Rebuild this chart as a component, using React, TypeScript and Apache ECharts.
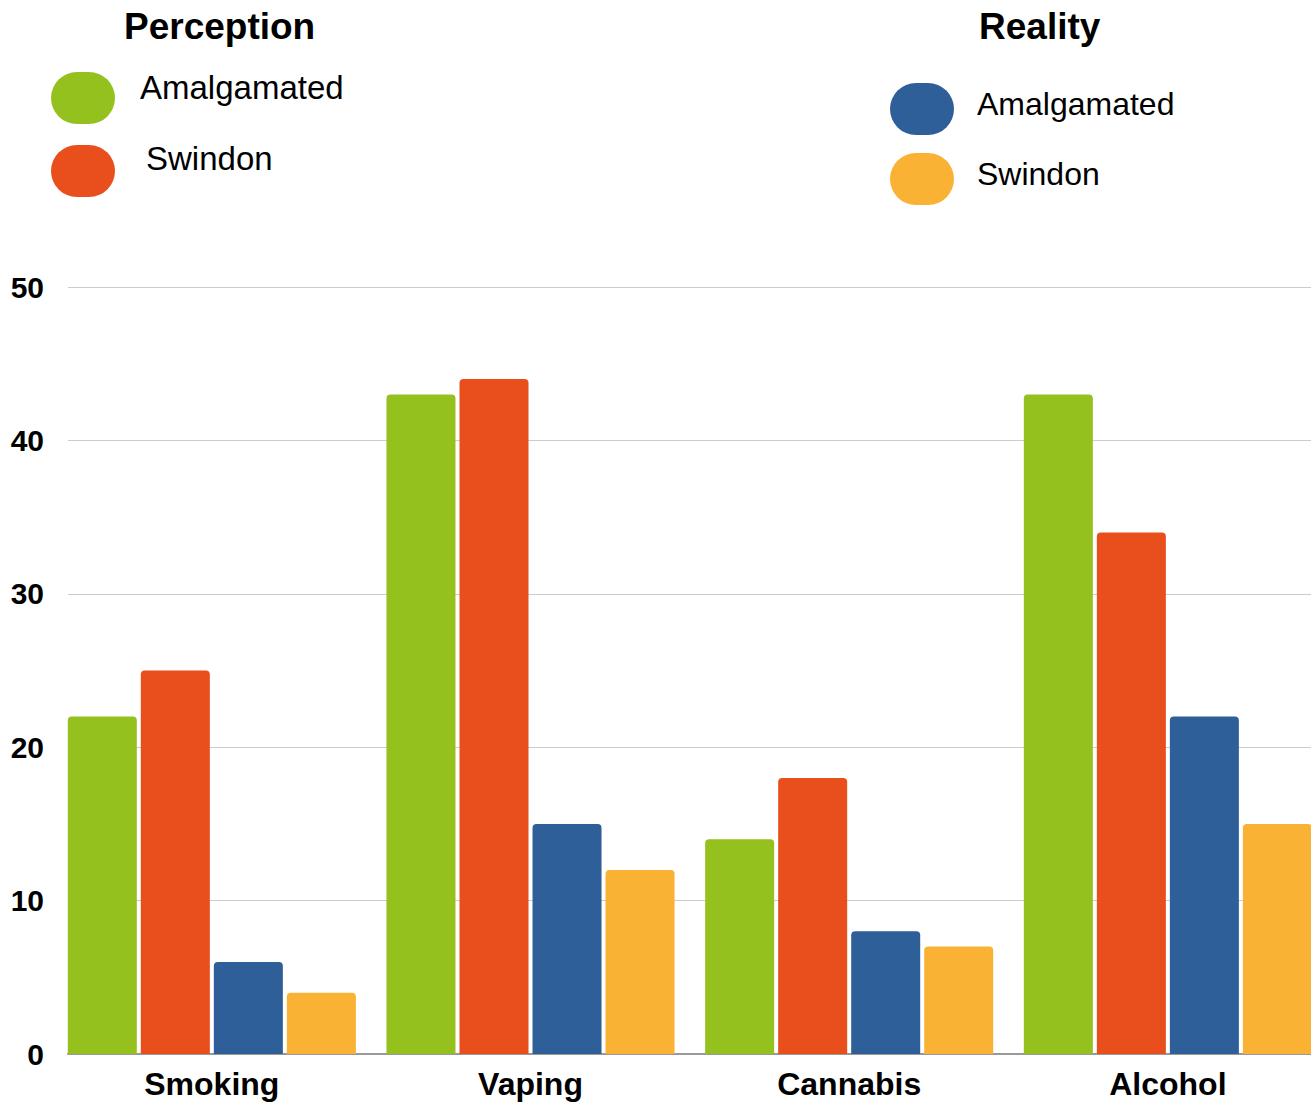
import React, { useEffect, useRef } from "react";
import * as echarts from "echarts";

const categories = ["Smoking", "Vaping", "Cannabis", "Alcohol"];
const perceptionAmalgamated = [22, 43, 14, 43];
const perceptionSwindon = [25, 44, 18, 34];
const realityAmalgamated = [6, 15, 8, 22];
const realitySwindon = [4, 12, 7, 15];
const yTicks = { min: 0, max: 50, interval: 10 };

const GREEN = "#95C11F";
const RED = "#E94E1D";
const BLUE = "#2E5F98";
const YELLOW = "#F9B233";
const FONT = "'Liberation Sans', Arial, Helvetica, sans-serif";

const legendGroups = [
  { title: "Perception", titleX: 124, swatchX: 51, textX: [140, 146], rows: [87, 158], fontSize: 33, colors: [GREEN, RED], names: ["Amalgamated", "Swindon"], swatchY: [72, 145] },
  { title: "Reality", titleX: 979, swatchX: 890, textX: [977, 977], rows: [104, 174], fontSize: 32, colors: [BLUE, YELLOW], names: ["Amalgamated", "Swindon"], swatchY: [83, 153] },
];

// the bar grid runs past the visible page edge so that the last group ends flush with it
const CHART_W = 1340;

export default function App() {
  const ref = useRef<HTMLDivElement>(null);

  useEffect(() => {
    if (!ref.current) return;
    const chart = echarts.init(ref.current, null, { renderer: "svg" });

    const graphics: any[] = [];
    legendGroups.forEach((g) => {
      graphics.push({
        type: "text",
        x: g.titleX,
        y: 26,
        style: { text: g.title, font: `bold 37px ${FONT}`, fill: "#000", textVerticalAlign: "middle" },
      });
      g.names.forEach((name, i) => {
        graphics.push({
          type: "rect",
          shape: { x: g.swatchX, y: g.swatchY[i], width: 64, height: 52, r: 26 },
          style: { fill: g.colors[i] },
        });
        graphics.push({
          type: "text",
          x: g.textX[i],
          y: g.rows[i],
          style: { text: name, font: `${g.fontSize}px ${FONT}`, fill: "#000", textVerticalAlign: "middle" },
        });
      });
    });

    const barSeries = (name: string, data: number[], color: string) => ({
      type: "bar",
      name,
      xAxisIndex: 0,
      yAxisIndex: 0,
      data,
      barGap: "5.8%",
      barCategoryGap: "9.6%",
      itemStyle: { color, borderRadius: [4, 4, 0, 0] },
    });

    chart.setOption({
      animation: false,
      backgroundColor: "#fff",
      textStyle: { fontFamily: FONT },
      graphic: graphics,
      grid: [
        { left: 52.5, top: 287, width: 1274.7, bottom: 48 },
        { left: 68, top: 287, width: 1311 - 68, bottom: 48 },
      ],
      xAxis: [
        {
          type: "category",
          gridIndex: 0,
          data: categories,
          axisLine: { show: false },
          axisTick: { show: false },
          axisLabel: { color: "#000", fontWeight: "bold", fontSize: 32, margin: 14, fontFamily: FONT },
        },
        {
          type: "value",
          gridIndex: 1,
          min: 0,
          max: 1,
          axisLine: { show: true, onZero: false, lineStyle: { color: "#999", width: 2 } },
          axisTick: { show: false },
          axisLabel: { show: false },
          splitLine: { show: false },
        },
      ],
      yAxis: [
        {
          type: "value",
          gridIndex: 0,
          ...yTicks,
          show: false,
          splitLine: { show: false },
        },
        {
          type: "value",
          gridIndex: 1,
          ...yTicks,
          axisLine: { show: false },
          axisTick: { show: false },
          axisLabel: { color: "#000", fontWeight: "bold", fontSize: 30, margin: 24, fontFamily: FONT },
          splitLine: { lineStyle: { color: "#cccccc", width: 1 } },
        },
      ],
      series: [
        barSeries("Perception Amalgamated", perceptionAmalgamated, GREEN),
        barSeries("Perception Swindon", perceptionSwindon, RED),
        barSeries("Reality Amalgamated", realityAmalgamated, BLUE),
        barSeries("Reality Swindon", realitySwindon, YELLOW),
      ],
    });

    return () => chart.dispose();
  }, []);

  return (
    <div style={{ position: "absolute", left: 0, top: 0, width: 1311, height: 1102, overflow: "hidden" }}>
      <div ref={ref} style={{ width: CHART_W, height: 1102 }} />
    </div>
  );
}
